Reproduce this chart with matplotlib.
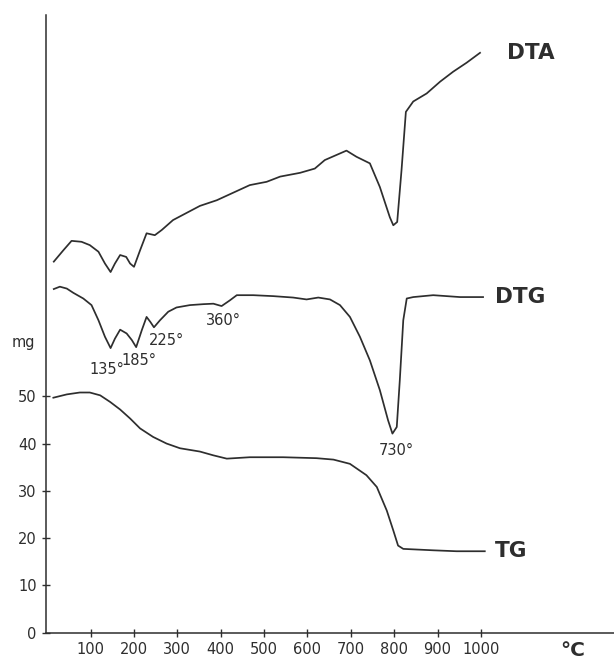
import matplotlib
matplotlib.use("Agg")
import matplotlib.pyplot as plt

# temperatura (°C) i wartości
dta_t = [15, 37, 56, 79, 98, 118, 133, 146, 156, 168, 182, 191, 200, 214, 229, 248,
         264, 290, 352, 391, 429, 467, 506, 537, 583, 617, 640, 690, 713, 744, 767,
         790, 798, 807, 817, 827, 844, 875, 906, 936, 967, 998]
dta_v = [78.5, 80.9, 82.9, 82.7, 82.0, 80.6, 78.1, 76.3, 78.1, 79.9, 79.5, 78.1, 77.4,
         80.9, 84.5, 84.1, 85.2, 87.3, 90.3, 91.5, 93.1, 94.7, 95.4, 96.5, 97.3, 98.2,
         100.0, 102.0, 100.7, 99.3, 94.3, 87.9, 86.2, 86.9, 97.9, 110.2, 112.4, 114.1,
         116.6, 118.7, 120.6, 122.7]

dtg_t = [15, 29, 45, 60, 83, 102, 118, 133, 146, 156, 168, 183, 195, 205, 218, 229,
         238, 246, 260, 279, 298, 329, 360, 383, 402, 421, 437, 475, 521, 567, 598,
         625, 652, 675, 698, 721, 744, 767, 786, 796, 806, 813, 821, 829, 844, 890,
         952, 1005]
dtg_v = [72.7, 73.2, 72.8, 71.9, 70.7, 69.3, 66.1, 62.6, 60.2, 62.2, 64.1, 63.3, 61.9,
         60.4, 64.0, 66.8, 65.7, 64.6, 66.1, 67.9, 68.8, 69.3, 69.5, 69.6, 69.1, 70.3,
         71.4, 71.4, 71.2, 70.9, 70.5, 70.9, 70.5, 69.3, 66.8, 62.6, 57.6, 51.3, 44.9,
         42.1, 43.5, 53.4, 66.1, 70.7, 71.0, 71.4, 71.0, 71.0]

tg_t = [14, 45, 75, 98, 122, 145, 168, 191, 214, 244, 275, 306, 352, 383, 414, 467,
        544, 621, 660, 698, 736, 760, 783, 798, 809, 821, 890, 944, 1009]
tg_v = [49.7, 50.4, 50.8, 50.8, 50.2, 48.8, 47.2, 45.3, 43.2, 41.4, 40.0, 39.0, 38.3,
        37.5, 36.8, 37.1, 37.1, 36.9, 36.6, 35.7, 33.3, 30.8, 25.8, 21.6, 18.4, 17.7,
        17.4, 17.2, 17.2]

x_ticks = [100, 200, 300, 400, 500, 600, 700, 800, 900, 1000]
y_ticks = [0, 10, 20, 30, 40, 50]

peak_labels = ["135°", "185°", "225°", "360°", "730°"]
peak_pos = [(137, 55.7), (211, 57.6), (276, 61.9), (407, 66.1), (806, 38.6)]

col = "#2e2e2e"

fig = plt.figure(figsize=(6.14, 6.59), dpi=100)
ax = fig.add_axes([0.0756, 0.0402, 0.9244, 0.937])

ax.plot(dta_t, dta_v, color=col, lw=1.25)
ax.plot(dtg_t, dtg_v, color=col, lw=1.25)
ax.plot(tg_t, tg_v, color=col, lw=1.25)

ax.set_xlim(-2, 1307)
ax.set_ylim(0, 130.7)

for s in ["top", "right"]:
    ax.spines[s].set_visible(False)
for s in ["left", "bottom"]:
    ax.spines[s].set_color(col)
    ax.spines[s].set_linewidth(1.1)

ax.set_xticks(x_ticks)
ax.set_yticks(y_ticks)
ax.tick_params(direction="inout", length=6, width=1, color=col,
               labelsize=10.5, labelcolor=col, pad=4)

# opisy krzywych
ax.text(1060, 122.7, "DTA", fontsize=15.5, fontweight="bold", color=col, va="center")
ax.text(1032, 71.0, "DTG", fontsize=15.5, fontweight="bold", color=col, va="center")
ax.text(1032, 17.2, "TG", fontsize=15.5, fontweight="bold", color=col, va="center")

for lab, (t, v) in zip(peak_labels, peak_pos):
    ax.text(t, v, lab, fontsize=10.5, color=col, ha="center", va="center")

ax.text(-56, 61.4, "mg", fontsize=10.5, color=col, ha="center", va="center", clip_on=False)
ax.text(1211, -3.9, "°C", fontsize=14.5, fontweight="bold", color=col,
        ha="center", va="center", clip_on=False)

plt.savefig("out.png", dpi=100)
